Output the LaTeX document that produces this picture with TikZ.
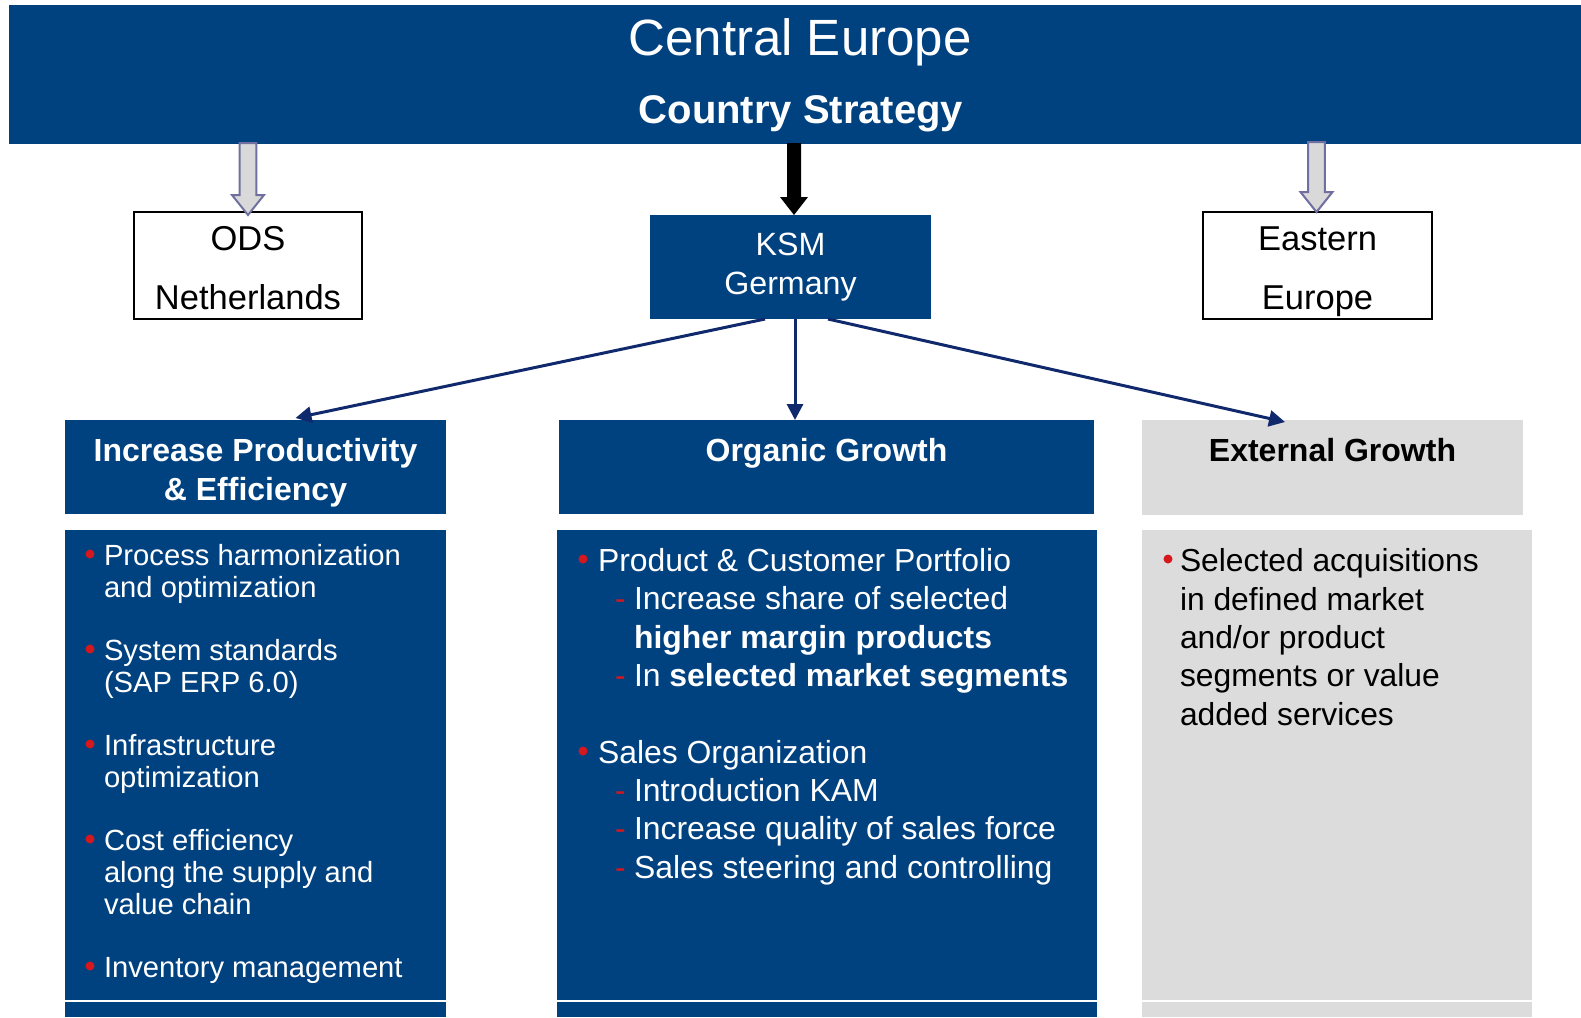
\documentclass[tikz,border=0pt]{standalone}
\usepackage{fontspec}
\setmainfont{Liberation Sans}
\usetikzlibrary{arrows.meta}

\definecolor{csBlue}{RGB}{0,65,128}
\definecolor{csLine}{RGB}{16,40,108}
\definecolor{csGray}{RGB}{220,220,220}
\definecolor{csRed}{RGB}{212,24,30}
\definecolor{csArrowEdge}{RGB}{112,112,160}
\definecolor{csArrowFill}{RGB}{217,217,217}

\begin{document}
\begin{tikzpicture}[x=1pt,y=-1pt,
  panel/.style={draw=none,inner sep=0pt,outer sep=0pt,anchor=north west},
  bluepanel/.style={panel,fill=csBlue},
  graypanel/.style={panel,fill=csGray},
  framebox/.style={panel,draw=black,line width=2pt,fill=white},
  linetext/.style={anchor=base west,inner sep=0pt,outer sep=0pt},
  midtext/.style={anchor=base,inner sep=0pt,outer sep=0pt},
  leftfont/.style={font=\fontsize{29.2}{32}\selectfont,text=white},
  midfont/.style={font=\fontsize{31.9}{38}\selectfont,text=white},
  rightfont/.style={font=\fontsize{31.8}{38}\selectfont,text=black},
  headfont/.style={font=\fontsize{32}{38}\selectfont\bfseries},
  boxfont/.style={font=\fontsize{34.5}{40}\selectfont,text=black},
  dashmark/.style={linetext,font=\fontsize{31.9}{38}\selectfont,text=csRed},
  conn/.style={draw=csLine,line width=3pt,-{Triangle[length=16pt,width=16pt]}},
  blockarrow/.style={draw=csArrowEdge,fill=csArrowFill,line width=2pt,line join=miter},
]
\useasboundingbox (0,0) rectangle (1581,1017);

% ---------- title banner ----------
\node[bluepanel,minimum width=1572pt,minimum height=139pt] (banner) at (9,5) {};
\node[midtext,font=\fontsize{51}{56}\selectfont,text=white] (title) at (800,55) {Central Europe};
\node[midtext,font=\fontsize{40}{46}\selectfont\bfseries,text=white] (subtitle) at (801,123) {Country Strategy};

% ---------- country boxes ----------
\node[framebox,minimum width=228pt,minimum height=107pt] (ods) at (134,212) {};
\node[midtext,boxfont] (odsA) at (ods.center |- 0,250) {ODS};
\node[midtext,boxfont] (odsB) at (ods.center |- 0,309) {Netherlands};

\node[bluepanel,minimum width=281pt,minimum height=104pt] (ksm) at (650,215) {};
\node[midtext,font=\fontsize{32.2}{38}\selectfont,text=white] (ksmA) at (ksm.center |- 0,255) {KSM};
\node[midtext,font=\fontsize{32.2}{38}\selectfont,text=white] (ksmB) at (ksm.center |- 0,294) {Germany};

\node[framebox,minimum width=229pt,minimum height=107pt] (eu) at (1203,212) {};
\node[midtext,boxfont] (euA) at (eu.center |- 0,250) {Eastern};
\node[midtext,boxfont] (euB) at (eu.center |- 0,309) {Europe};

% ---------- block arrows from the banner ----------
\draw[blockarrow] ([yshift=-3pt]ods.north) -- ++(-16,-20) -- ++(7.7,0) -- ++(0,-52)
  -- ++(16.6,0) -- ++(0,52) -- ++(7.7,0) -- cycle;
\draw[blockarrow] ([xshift=-1pt]eu.north) -- ++(-16,-20) -- ++(7.7,0) -- ++(0,-50)
  -- ++(16.6,0) -- ++(0,50) -- ++(7.7,0) -- cycle;
\fill[black] ([xshift=3.5pt]ksm.north) -- ++(-14,-18) -- ++(7,0) -- ++(0,-54)
  -- ++(14,0) -- ++(0,54) -- ++(7,0) -- cycle;

% ---------- column headers ----------
\node[bluepanel,minimum width=381pt,minimum height=94pt] (hp) at (65,420) {};
\node[midtext,headfont,text=white] (hpA) at (hp.center |- 0,461) {Increase Productivity};
\node[midtext,headfont,text=white] (hpB) at (hp.center |- 0,500) {\& Efficiency};

\node[bluepanel,minimum width=535pt,minimum height=94pt] (ho) at (559,420) {};
\node[midtext,headfont,text=white] (hoA) at (ho.center |- 0,461) {Organic Growth};

\node[graypanel,minimum width=381pt,minimum height=95pt] (hx) at (1142,420) {};
\node[midtext,headfont,text=black] (hxA) at (hx.center |- 0,461) {External Growth};

% ---------- connectors from KSM ----------
\draw[conn] ([xshift=-25.5pt]ksm.south) -- ([xshift=40pt,yshift=2pt]hp.north);
\draw[conn] ([xshift=4.5pt]ksm.south) -- ([xshift=4.5pt]ksm.south |- ho.north);
\draw[conn] ([xshift=37.5pt]ksm.south) -- ([xshift=-47.5pt,yshift=-2pt]hx.north);

% ---------- column bodies ----------
\node[bluepanel,minimum width=381pt,minimum height=487pt] (bp) at (65,530) {};
\node[bluepanel,minimum width=540pt,minimum height=487pt] (bo) at (557,530) {};
\node[graypanel,minimum width=390pt,minimum height=487pt] (bx) at (1142,530) {};
\foreach \b in {bp,bo,bx}
  \draw[white,line width=2pt] ([yshift=16pt]\b.south west) -- ([yshift=16pt]\b.south east);

% left column
\foreach \y in {565,660,755,850,977}
  \fill[csRed] (90,\y-11) circle (4.5);
\node[linetext,leftfont] (p1a) at (104,565) {Process harmonization};
\node[linetext,leftfont] (p1b) at (104,597) {and optimization};
\node[linetext,leftfont] (p2a) at (104,660) {System standards};
\node[linetext,leftfont] (p2b) at (104,692) {(SAP ERP 6.0)};
\node[linetext,leftfont] (p3a) at (104,755) {Infrastructure};
\node[linetext,leftfont] (p3b) at (104,787) {optimization};
\node[linetext,leftfont] (p4a) at (104,850) {Cost efficiency};
\node[linetext,leftfont] (p4b) at (104,882) {along the supply and};
\node[linetext,leftfont] (p4c) at (104,914) {value chain};
\node[linetext,leftfont] (p5a) at (104,977) {Inventory management};

% middle column
\foreach \y in {571,763}
  \fill[csRed] (583,\y-12) circle (4.5);
\foreach \y [count=\k] in {609,686,801,839,878}
  \node[dashmark] (od\k) at (615,\y) {-};
\node[linetext,midfont] (o1) at (598,571) {Product \& Customer Portfolio};
\node[linetext,midfont] (o2) at (634,609) {Increase share of selected};
\node[linetext,midfont] (o3) at (634,648) {\textbf{higher margin products}};
\node[linetext,midfont] (o4) at (634,686) {In \textbf{selected market segments}};
\node[linetext,midfont] (o5) at (598,763) {Sales Organization};
\node[linetext,midfont] (o6) at (634,801) {Introduction KAM};
\node[linetext,midfont] (o7) at (634,839) {Increase quality of sales force};
\node[linetext,midfont] (o8) at (634,878) {Sales steering and controlling};

% right column
\fill[csRed] (1168,559) circle (4.5);
\node[linetext,rightfont] (x1) at (1180,571) {Selected acquisitions};
\node[linetext,rightfont] (x2) at (1180,610) {in defined market};
\node[linetext,rightfont] (x3) at (1180,648) {and/or product};
\node[linetext,rightfont] (x4) at (1180,686) {segments or value};
\node[linetext,rightfont] (x5) at (1180,725) {added services};
\end{tikzpicture}
\end{document}
